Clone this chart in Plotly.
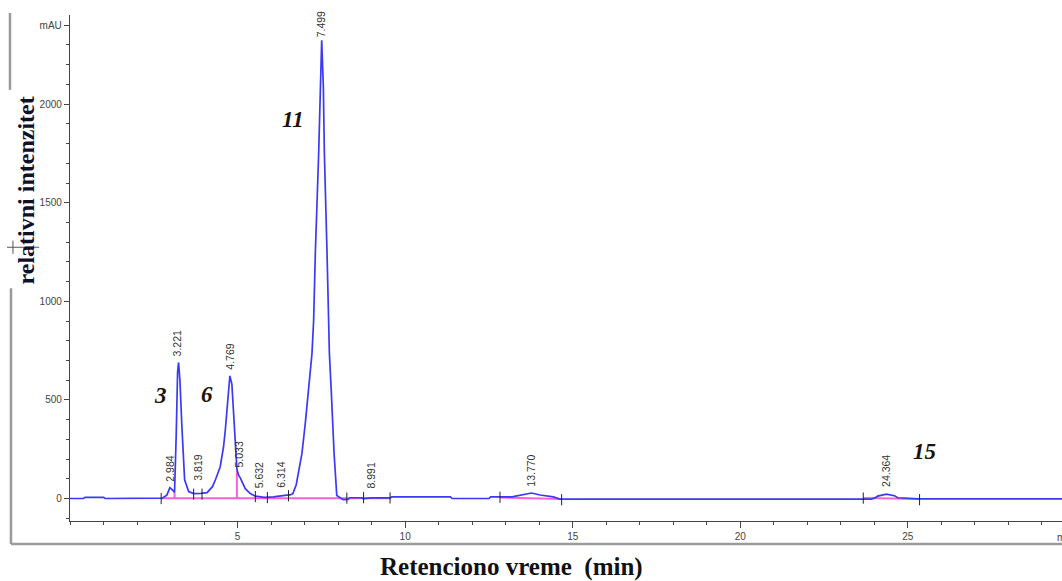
import plotly.graph_objects as go

# ---- chromatogram signal (retention time in min, absorbance in mAU) ----
time_min = [0.0, 0.4, 0.45, 1.0, 1.05, 2.7, 2.75, 2.89, 2.98, 3.07, 3.12, 3.17, 3.21, 3.24, 3.28,
            3.34, 3.42, 3.54, 3.69, 3.9, 4.09, 4.25, 4.34, 4.48, 4.58, 4.63, 4.70, 4.77, 4.83,
            4.86, 4.93, 4.98, 5.03, 5.08, 5.23, 5.38, 5.53, 5.8, 6.07, 6.3, 6.47, 6.57, 6.65,
            6.75, 6.92, 7.02, 7.12, 7.22, 7.27, 7.32, 7.42, 7.47, 7.51, 7.56, 7.59, 7.67, 7.71,
            7.74, 7.79, 7.88, 7.96, 8.06, 8.15, 8.3, 8.35, 8.7, 8.75, 9.0, 9.55, 9.6, 11.35,
            11.4, 12.5, 12.55, 13.2, 13.3, 13.5, 13.77, 14.03, 14.42, 14.62, 14.7, 23.9, 24.0,
            24.1, 24.36, 24.6, 24.7, 25.3, 29.6]
absorbance = [0, 0, 6, 6, 0, 0, 2, 17, 55, 42, 30, 330, 640, 690, 600,
              360, 95, 35, 25, 26, 30, 60, 95, 160, 260, 340, 500, 622, 580,
              500, 270, 150, 118, 105, 50, 25, 12, 6, 8, 15, 17, 18, 25,
              70, 228, 380, 566, 735, 904, 1242, 1750, 2087, 2324, 2087, 1750, 1242, 904,
              735, 566, 228, 15, 2, -6, -4, 4, 4, 0, 3, 3, 8, 8,
              0, 0, 8, 8, 12, 18, 28, 18, 8, -3, -3, -3, 2,
              12, 22, 14, 4, -2, -2]

# ---- integration baselines (pink) ----
base_t = [2.75, 9.55, None, 12.83, 14.67, None, 23.67, 25.35, None, 3.12, 3.12, None, 4.98, 4.98]
base_v = [2, 2, None, 5, -2, None, 3, -2, None, 2, 30, None, 2, 143]

# ---- integration event marks ----
event_t = [2.72, 3.69, 3.94, 5.53, 5.89, 6.52, 8.26, 8.76, 9.55, 12.83, 14.67, 23.67, 25.35]
event_v = [0, 22, 22, 10, 5, 14, 2, 4, 3, 6, -6, 2, -6]

# ---- peak retention time labels ----
peak_labels = ["2.984", "3.221", "3.819", "4.769", "5.033", "5.632", "6.314", "7.499",
               "8.991", "13.770", "24.364"]
peak_t = [2.984, 3.221, 3.819, 4.769, 5.033, 5.632, 6.314, 7.499, 8.991, 13.770, 24.364]
peak_h = [55, 690, 60, 622, 125, 20, 22, 2310, 22, 32, 26]

# ---- compound numbers ----
cmp_text = ["3", "6", "11", "15"]
cmp_t = [2.7, 4.1, 6.65, 25.5]
cmp_v = [520, 525, 1920, 240]

# ---- axis ticks ----
x_tickvals = [5, 10, 15, 20, 25]
x_ticktext = ["5", "10", "15", "20", "25"]
y_tickvals = [0, 500, 1000, 1500, 2000, 2400]
y_ticktext = ["0", "500", "1000", "1500", "2000", "mAU"]

fig = go.Figure()
fig.add_trace(go.Scatter(x=base_t, y=base_v, mode="lines",
                         line=dict(color="#ff5fd6", width=2), connectgaps=False,
                         hoverinfo="skip", showlegend=False))
fig.add_trace(go.Scatter(x=time_min, y=absorbance, mode="lines",
                         line=dict(color="#3a3af5", width=1.7), showlegend=False))
fig.add_trace(go.Scatter(x=event_t, y=event_v, mode="markers",
                         marker=dict(symbol="line-ns", size=8,
                                     line=dict(color="#222", width=1)),
                         hoverinfo="skip", showlegend=False))

annotations = []
for lab, t, h in zip(peak_labels, peak_t, peak_h):
    annotations.append(dict(x=t, y=h, xref="x", yref="y", text=lab, showarrow=False,
                            textangle=-90, yanchor="bottom", xanchor="center", yshift=4,
                            font=dict(family="Liberation Sans, Arial", size=10.5, color="#333")))
for txt, t, v in zip(cmp_text, cmp_t, cmp_v):
    annotations.append(dict(x=t, y=v, xref="x", yref="y", text="<b><i>%s</i></b>" % txt,
                            showarrow=False, xanchor="center", yanchor="middle",
                            font=dict(family="Liberation Serif, Times New Roman", size=23,
                                      color="#1c1308")))

# axis titles
annotations.append(dict(x=-0.0445, y=0.653, xref="paper", yref="paper",
                        text="<b>relativni intenzitet</b>", textangle=-90, showarrow=False,
                        xanchor="center", yanchor="middle",
                        font=dict(family="Liberation Serif, Times New Roman", size=24,
                                  color="#10102a")))
annotations.append(dict(x=0.445, y=-0.09, xref="paper", yref="paper",
                        text="<b>Retenciono vreme&nbsp; (min)</b>", showarrow=False,
                        xanchor="center", yanchor="middle",
                        font=dict(family="Liberation Serif, Times New Roman", size=25,
                                  color="#111")))
annotations.append(dict(x=0.993, y=-0.033, xref="paper", yref="paper", text="min",
                        showarrow=False, xanchor="left", yanchor="middle",
                        font=dict(family="Liberation Sans, Arial", size=10, color="#444")))

frame = dict(color="#9a9a9a", width=2.5)
shapes = [
    dict(type="line", xref="paper", yref="paper", x0=-0.0595, x1=1.0, y0=-0.0455, y1=-0.0455, line=frame),
    dict(type="line", xref="paper", yref="paper", x0=-0.0595, x1=-0.0595, y0=-0.0455, y1=0.46, line=frame),
    dict(type="line", xref="paper", yref="paper", x0=-0.0605, x1=-0.0605, y0=0.852, y1=1.004, line=frame),
    dict(type="line", xref="paper", yref="paper", x0=-0.0635, x1=-0.031, y0=0.541, y1=0.541,
         line=dict(color="#555", width=1)),
    dict(type="line", xref="paper", yref="paper", x0=-0.0575, x1=-0.0575, y0=0.528, y1=0.554,
         line=dict(color="#555", width=1)),
]

axis_font = dict(family="Liberation Sans, Arial", size=10, color="#444")
fig.update_layout(
    width=1062, height=581,
    margin=dict(l=70, r=0, t=15, b=60),
    paper_bgcolor="white", plot_bgcolor="white",
    annotations=annotations, shapes=shapes,
    xaxis=dict(range=[0, 29.6], showgrid=False, zeroline=False,
               showline=True, linecolor="#444", linewidth=1.3,
               tickmode="array", tickvals=x_tickvals, ticktext=x_ticktext,
               ticks="outside", ticklen=6, tickcolor="#444", tickwidth=1,
               tickfont=axis_font,
               minor=dict(dtick=1, tick0=0, ticks="outside", ticklen=3,
                          tickcolor="#444", tickwidth=1.3, showgrid=False)),
    yaxis=dict(range=[-114, 2452], showgrid=False, zeroline=False,
               showline=True, linecolor="#444", linewidth=1.3,
               tickmode="array", tickvals=y_tickvals, ticktext=y_ticktext,
               ticks="outside", ticklen=5, tickcolor="#444", tickwidth=1,
               tickfont=axis_font,
               minor=dict(dtick=100, tick0=0, ticks="outside", ticklen=3,
                          tickcolor="#444", tickwidth=1.3, showgrid=False)),
)

fig.write_html("out.html", config={"displayModeBar": False},
               post_script="document.body.style.margin='0';document.body.style.overflow='hidden';")
